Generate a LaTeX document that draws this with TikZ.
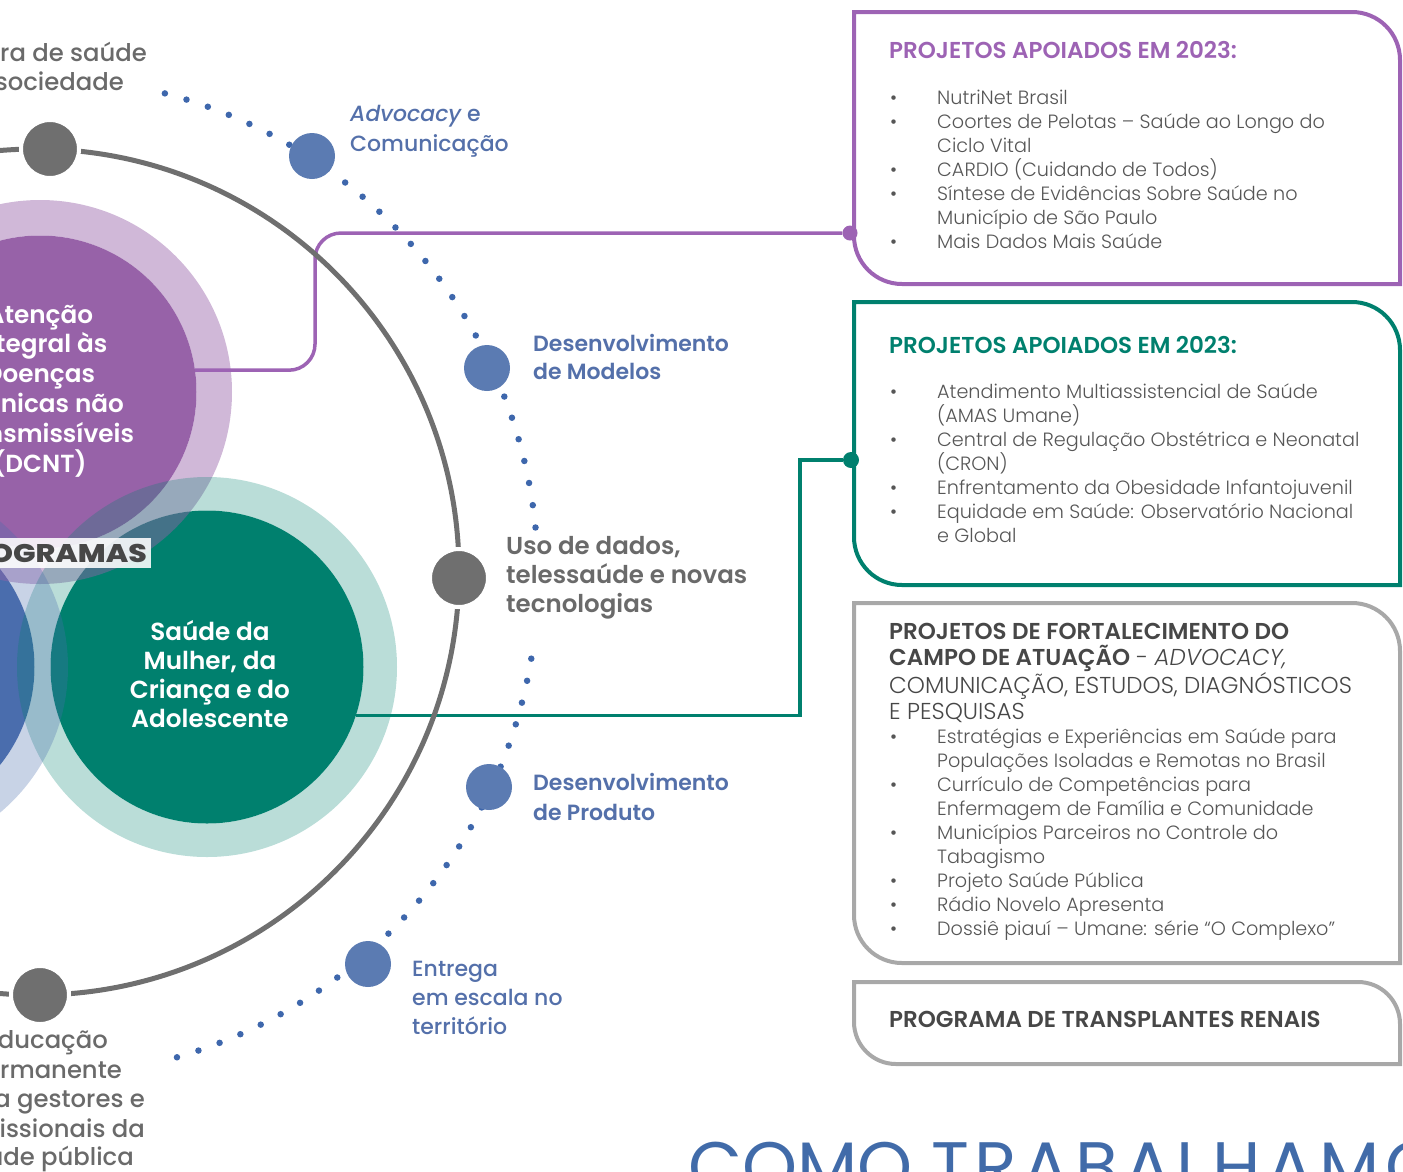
\documentclass[tikz,border=0pt]{standalone}
\usepackage{fontspec}
\setmainfont{Poppins}
\newfontfamily\plight{Poppins Light}
\newfontfamily\plightit{Poppins Light Italic}
\newfontfamily\pmedium{Poppins Medium}
\newfontfamily\pmedit{Poppins Medium Italic}
\newfontfamily\psemi{Poppins SemiBold}
\newfontfamily\pxbold{Poppins ExtraBold}[FakeStretch=1.17]
\newcommand{\setfs}[2]{\fontsize{#1}{#2}\selectfont}
\newcommand{\bul}{\makebox[47pt][l]{\textbullet}}
\newcommand{\ind}{\hspace*{47pt}}

\definecolor{ringgray}{HTML}{6F6F6F}
\definecolor{dotblue}{HTML}{3E67AC}
\definecolor{nodeblue}{HTML}{5B7BB2}
\definecolor{lblblue}{HTML}{5470AA}
\definecolor{txtgray}{HTML}{6A6A6A}
\definecolor{progpurple}{HTML}{9762A8}
\definecolor{progteal}{HTML}{00806E}
\definecolor{progblue}{HTML}{4A6DAD}
\definecolor{boxpurple}{HTML}{9D63B4}
\definecolor{boxteal}{HTML}{00806E}
\definecolor{boxgray}{HTML}{A8A8A8}
\definecolor{listgray}{HTML}{565656}
\definecolor{headgray}{HTML}{474747}
\definecolor{comoblue}{HTML}{416BA9}

\begin{document}
\begin{tikzpicture}[x=1pt,y=-1pt,
  ringnode/.style={circle,fill=ringgray,draw=white,line width=4pt,minimum size=58pt,inner sep=0pt},
  arcnode/.style={circle,fill=nodeblue,minimum size=46pt,inner sep=0pt},
  progcirc/.style={circle,fill=#1,minimum size=313pt,inner sep=0pt},
  linkdot/.style={circle,fill=#1,minimum size=15pt,inner sep=0pt},
  linkline/.style={draw=#1,line width=3.5pt},
  dotline/.style={dotblue,line width=6.5pt,line cap=round,dash pattern=on 0pt off 22.5pt},
  boxline/.style={draw=#1,line width=4pt},
  lbl/.style={inner sep=0pt,align=left},
  bluelbl/.style={lbl,text=lblblue,font=\pmedium\setfs{22}{29.2}},
  boldlbl/.style={lbl,text=lblblue,font=\psemi\setfs{22}{28.5}},
  graylbl/.style={lbl,text=txtgray,font=\pmedium\setfs{24.3}{29.5}},
  circtxt/.style={inner sep=0pt,align=center,text=white,font=\psemi\setfs{24.7}{29.5}},
  headtxt/.style={inner sep=0pt,align=left,font=\psemi\setfs{23}{25.7}},
  listtxt/.style={inner sep=0pt,align=left,text=listgray,font=\plight\setfs{19.2}{24}}]
\useasboundingbox (0,0) rectangle (1403,1171);
\clip (0,0) rectangle (1403,1171);

% programas
\node[progcirc=progpurple] (dcnt) at (40,392) {};
\node[progcirc=progteal] (mulher) at (207,667) {};
\node[progcirc=progblue] (prog3) at (-122,667) {};
\fill[progpurple,opacity=.45,even odd rule] (dcnt) circle[radius=192] (dcnt) circle[radius=156.5];
\fill[progteal,opacity=.27,even odd rule] (mulher) circle[radius=190] (mulher) circle[radius=156.5];
\fill[progblue,opacity=.3,even odd rule] (prog3) circle[radius=190] (prog3) circle[radius=156.5];

% ligacoes com os quadros
\coordinate (pbend) at (315,233);
\coordinate (tbend) at (800,460);
\node[linkdot=boxpurple] (pdot) at (850,233) {};
\node[linkdot=boxteal,minimum size=16pt] (tdot) at (851,460) {};
\draw[linkline=boxpurple,rounded corners=26pt] (dcnt.8) -| (pbend) -- (pdot);
\draw[linkline=boxteal] (mulher.-18) -| (tbend) -- (tdot);

% anel e arco pontilhado
\draw[ringgray,line width=5pt] (36,572) circle[radius=423];
\draw[dotline] (38,577) ++(-75.3:500) arc[start angle=-75.3,end angle=-5.2,radius=500];
\draw[dotline] (38,577) ++(9.4:500) arc[start angle=9.4,end angle=74.5,radius=500];

\node[ringnode] (cultura) at (50,149) {};
\node[ringnode] (dados) at (459,578) {};
\node[ringnode] (educacao) at (40,995) {};
\node[arcnode] (adv) at (312,156) {};
\node[arcnode] (modelos) at (487,368) {};
\node[arcnode] (produto) at (489,787) {};
\node[arcnode] (entrega) at (368,964) {};

% rotulos
\node[graylbl,anchor=base east] (cult1) at (147,61) {ra de saúde};
\node[graylbl,anchor=base east] (cult2) at (124,90) {sociedade};
\node[graylbl,anchor=base east] (edu1) at (108,1048) {ducação};
\node[graylbl,anchor=base east] (edu2) at (122,1078) {rmanente};
\node[graylbl,anchor=base east] (edu3) at (145,1107) {a gestores e};
\node[graylbl,anchor=base east] (edu4) at (145,1137) {issionais da};
\node[graylbl,anchor=base east] (edu5) at (134,1165) {úde pública};
\node[bluelbl,anchor=base west] (advlbl) at (350,151) {{\pmedit Advocacy} e\\Comunicação};
\node[boldlbl,anchor=base west] (modlbl) at (533,379.5) {Desenvolvimento\\de Modelos};
\node[graylbl,font=\psemi\setfs{24.5}{29.2},anchor=base west] (dadoslbl) at (506,612.5) {Uso de dados,\\telessaúde e novas\\tecnologias};
\node[boldlbl,font=\psemi\setfs{22}{30},anchor=base west] (prodlbl) at (533,820) {Desenvolvimento\\de Produto};
\node[bluelbl,anchor=base west] (entlbl) at (412,1034.5) {Entrega\\em escala no\\território};

\node[circtxt,font=\psemi\setfs{24.7}{29.8},anchor=base] (dcntlbl) at (40,472) {Atenção\\Integral às\\Doenças\\Crônicas não\\Transmissíveis\\(DCNT)};
\node[circtxt,font=\psemi\setfs{24.7}{29},anchor=base] (mulherlbl) at (210,727) {Saúde da\\Mulher, da\\Criança e do\\Adolescente};
\node[fill=white,fill opacity=.88,text opacity=1,text=headgray,font=\pxbold\setfs{25.5}{25.5},
  anchor=east,inner xsep=4pt,inner ysep=0pt,minimum height=30pt] (progs) at (151,553) {PROGRAMAS};

% quadros
\draw[boxline=boxpurple] (854,12) -- (1352,12) arc[start angle=-90,end angle=0,radius=48]
  -- (1400,284) -- (902,284) arc[start angle=90,end angle=180,radius=48] -- cycle;
\draw[boxline=boxteal] (854,302) -- (1352,302) arc[start angle=-90,end angle=0,radius=48]
  -- (1400,585) -- (902,585) arc[start angle=90,end angle=180,radius=48] -- cycle;
\draw[boxline=boxgray] (854,603) -- (1352,603) arc[start angle=-90,end angle=0,radius=48]
  -- (1400,963) -- (902,963) arc[start angle=90,end angle=180,radius=48] -- cycle;
\draw[boxline=boxgray] (854,982) -- (1358,982) arc[start angle=-90,end angle=0,radius=42]
  -- (1400,1064) -- (896,1064) arc[start angle=90,end angle=180,radius=42] -- cycle;

\node[headtxt,text=boxpurple,anchor=base west] (head1) at (889,58) {PROJETOS APOIADOS EM 2023:};
\node[listtxt,anchor=base west] (list1) at (890,248) {\bul NutriNet Brasil\\
  \bul Coortes de Pelotas – Saúde ao Longo do\\
  \ind Ciclo Vital\\
  \bul CARDIO (Cuidando de Todos)\\
  \bul Síntese de Evidências Sobre Saúde no\\
  \ind Município de São Paulo\\
  \bul Mais Dados Mais Saúde};

\node[headtxt,text=boxteal,anchor=base west] (head2) at (889,353) {PROJETOS APOIADOS EM 2023:};
\node[listtxt,anchor=base west] (list2) at (890,542) {\bul Atendimento Multiassistencial de Saúde\\
  \ind (AMAS Umane)\\
  \bul Central de Regulação Obstétrica e Neonatal\\
  \ind (CRON)\\
  \bul Enfrentamento da Obesidade Infantojuvenil\\
  \bul Equidade em Saúde: Observatório Nacional\\
  \ind e Global};

\node[headtxt,font=\plight\setfs{23}{25.7},text=headgray,anchor=base west] (head3) at (889,719)
  {{\psemi PROJETOS DE FORTALECIMENTO DO}\\
  {\psemi CAMPO DE ATUAÇÃO} - {\plightit ADVOCACY,}\\
  COMUNICAÇÃO, ESTUDOS, DIAGNÓSTICOS\\
  E PESQUISAS};
\node[listtxt,anchor=base west] (list3) at (890,935) {\bul Estratégias e Experiências em Saúde para\\
  \ind Populações Isoladas e Remotas no Brasil\\
  \bul Currículo de Competências para\\
  \ind Enfermagem de Família e Comunidade\\
  \bul Municípios Parceiros no Controle do\\
  \ind Tabagismo\\
  \bul Projeto Saúde Pública\\
  \bul Rádio Novelo Apresenta\\
  \bul Dossiê piauí – Umane: série “O Complexo”};

\node[headtxt,text=headgray,anchor=base west] (head4) at (889,1027) {PROGRAMA DE TRANSPLANTES RENAIS};

\node[inner sep=0pt,text=comoblue,font=\setfs{70}{70},anchor=base west] (como) at (688,1191)
  {COMO {\addfontfeature{LetterSpace=8}TRABALHAMOS}};
\end{tikzpicture}
\end{document}
